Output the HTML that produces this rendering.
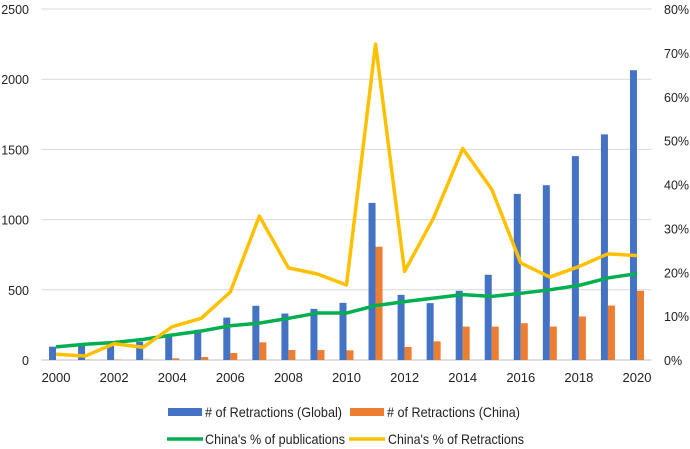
<!DOCTYPE html>
<html><head><meta charset="utf-8"><style>
html,body{margin:0;padding:0;background:#fff;}
svg{display:block;font-family:"Liberation Sans",Arial,sans-serif;}
</style></head><body>
<svg id="chart" width="690" height="449"></svg>
<script>
const years=[2000,2001,2002,2003,2004,2005,2006,2007,2008,2009,2010,2011,2012,2013,2014,2015,2016,2017,2018,2019,2020];
const globalRetractions=[95,105,115,130,180,215,302,386,331,364,407,1119,464,405,493,607,1183,1245,1452,1607,2064];
const chinaRetractions=[0,2,3,3,12,21,50,126,71,71,69,807,93,133,238,238,262,238,310,388,493];
const chinaPubPct=[3.0,3.6,4.0,4.7,5.7,6.6,7.8,8.4,9.5,10.7,10.7,12.4,13.3,14.1,14.9,14.5,15.2,16.0,17.0,18.7,19.7];
const chinaRetPct=[1.3,0.9,3.7,2.9,7.6,9.5,15.5,32.8,21.0,19.6,17.1,72.0,20.2,32.4,48.2,38.9,22.1,18.9,21.3,24.2,23.8];
const leftTicks=[0,500,1000,1500,2000,2500];
const rightTicks=[0,10,20,30,40,50,60,70,80];
const xLabels=[2000,2002,2004,2006,2008,2010,2012,2014,2016,2018,2020];

const NS="http://www.w3.org/2000/svg";
const svg=document.getElementById('chart');
const L=41.5,R=651.5,T=9,B=360;
const step=(R-L)/years.length;
function xC(i){return L+step*(i+0.5);}
function yL(v){return B-(v/2500)*(B-T);}
function yR(p){return B-(p/80)*(B-T);}
function mk(tag,attrs){const e=document.createElementNS(NS,tag);for(const k in attrs)e.setAttribute(k,attrs[k]);svg.appendChild(e);return e;}

leftTicks.forEach(v=>{
  const g=mk('line',{x1:L,x2:R,y1:yL(v),y2:yL(v),stroke:v===0?'#bfbfbf':'#d9d9d9','stroke-width':1});
  
  
  const t=mk('text',{x:29,y:yL(v)+5,'text-anchor':'end','font-size':12.5,fill:'#222'});
  t.textContent=v;
  
  
});
rightTicks.forEach(p=>{
  const t=mk('text',{x:664,y:yR(p)+5,'font-size':12.5,fill:'#222'});
  t.textContent=p+'%';
  
  
});
xLabels.forEach(y=>{
  const i=years.indexOf(y);
  const t=mk('text',{x:xC(i),y:382,'text-anchor':'middle','font-size':13,fill:'#222'});
  t.textContent=y;
  
  
});
const bw=7;
years.forEach((y,i)=>{
  const b1=mk('rect',{x:xC(i)-bw,y:yL(globalRetractions[i]),width:bw,height:B-yL(globalRetractions[i]),fill:'#4472c4'});
  
  
  const b2=mk('rect',{x:xC(i),y:yL(chinaRetractions[i]),width:bw,height:B-yL(chinaRetractions[i]),fill:'#ed7d31'});
  
  
});
const gp=mk('polyline',{points:chinaPubPct.map((p,i)=>xC(i)+','+yR(p)).join(' '),fill:'none',stroke:'#00b050','stroke-width':3.5,'stroke-linejoin':'round'});


const yp=mk('polyline',{points:chinaRetPct.map((p,i)=>xC(i)+','+yR(p)).join(' '),fill:'none',stroke:'#ffc000','stroke-width':3.5,'stroke-linejoin':'round'});



function legend(kind,color,x,y,label,name,tx,tw){
  let s;
  if(kind==='bar') s=mk('rect',{x:x,y:y-4,width:34,height:8,fill:color});
  else s=mk('line',{x1:x,x2:x+36,y1:y,y2:y,stroke:color,'stroke-width':3.5});
  
  
  const t=mk('text',{x:tx,y:y+5,'font-size':14,fill:'#222',textLength:tw,lengthAdjust:'spacingAndGlyphs'});
  t.textContent=label;
  
  
}
legend('bar','#4472c4',168,412,'# of Retractions (Global)','legend-global',205,137);
legend('bar','#ed7d31',350,412,'# of Retractions (China)','legend-china',387,133);
legend('line','#00b050',167,439,"China's % of publications",'legend-publications',205,140);
legend('line','#ffc000',349,439,"China's % of Retractions",'legend-retractions-pct',388,136);
</script>
</body></html>
